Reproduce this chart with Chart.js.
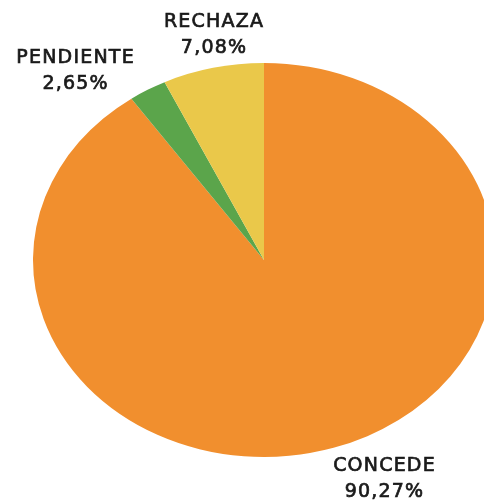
<!DOCTYPE html>
<html>
<head>
<meta charset="utf-8">
<script src="https://cdn.jsdelivr.net/npm/chart.js@4.4.0/dist/chart.umd.min.js"></script>
<style>
    html, body { margin: 0; padding: 0; background: #ffffff; }
    #resoluciones { display: block; }
</style>
</head>
<body>
<canvas id="resoluciones" width="484" height="502"></canvas>
<script>
const categorias = ["CONCEDE", "PENDIENTE", "RECHAZA"];
const porcentajes = [90.27, 2.65, 7.08];
const etiquetasValor = ["90,27%", "2,65%", "7,08%"];
const colores = ["#F18F2E", "#5BA54B", "#EAC84A"];

// la tarta original está estirada en horizontal
const estiramientoX = 231 / 197;

const estirarTarta = {
    id: "estirarTarta",
    beforeDatasetsDraw(chart) {
        const arco = chart.getDatasetMeta(0).data[0];
        const ctx = chart.ctx;
        ctx.save();
        ctx.translate(arco.x, arco.y);
        ctx.scale(estiramientoX, 1);
        ctx.translate(-arco.x, -arco.y);
    },
    afterDatasetsDraw(chart) {
        chart.ctx.restore();
    },
};

// desplazamiento de cada etiqueta respecto al borde del sector
const desplazamientos = [
    { dx: 51, dy: 49 },
    { dx: -72, dy: -1 },
    { dx: 1, dy: -15 },
];

const etiquetas = {
    id: "etiquetas",
    afterDraw(chart) {
        const ctx = chart.ctx;
        ctx.save();
        ctx.font = "19px 'DejaVu Sans'";
        ctx.letterSpacing = "1.2px";
        ctx.fillStyle = "#1a1a1a";
        ctx.strokeStyle = "#1a1a1a";
        ctx.lineWidth = 0.7;
        ctx.textAlign = "center";
        ctx.textBaseline = "alphabetic";
        chart.getDatasetMeta(0).data.forEach((arco, i) => {
            const medio = (arco.startAngle + arco.endAngle) / 2;
            const x = arco.x + Math.cos(medio) * arco.outerRadius * estiramientoX + desplazamientos[i].dx;
            const y = arco.y + Math.sin(medio) * arco.outerRadius + desplazamientos[i].dy;
            [categorias[i], etiquetasValor[i]].forEach((texto, linea) => {
                const yl = y - 26 + linea * 26;
                ctx.fillText(texto, x, yl);
                ctx.strokeText(texto, x, yl);
            });
        });
        ctx.restore();
    },
};

const config = {
    type: "pie",
    data: {
        labels: categorias,
        datasets: [{
            data: porcentajes,
            backgroundColor: colores,
            borderWidth: 0,
        }],
    },
    options: {
        responsive: false,
        animation: false,
        layout: {
            padding: { top: 63, bottom: 45, left: 67, right: 23 },
        },
        plugins: {
            legend: { display: false },
            tooltip: { enabled: false },
        },
    },
    plugins: [estirarTarta, etiquetas],
};

new Chart(document.getElementById("resoluciones").getContext("2d"), config);
</script>
</body>
</html>
